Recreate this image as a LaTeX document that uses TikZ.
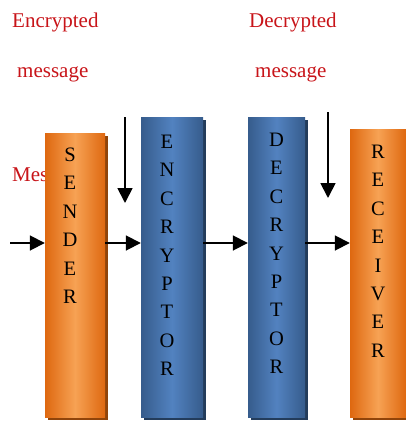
\documentclass[tikz,border=0pt]{standalone}
\usepackage{fontspec}
\setmainfont{Liberation Serif}
\usetikzlibrary{positioning,arrows.meta,shadows}

\definecolor{msgred}{RGB}{200,20,25}
\definecolor{orangedark}{RGB}{222,104,16}
\definecolor{orangelight}{RGB}{247,162,84}
\definecolor{bluedark}{RGB}{54,92,140}
\definecolor{bluelight}{RGB}{82,130,192}

\begin{document}
\begin{tikzpicture}[x=1pt, y=-1pt,
    msg/.style={anchor=base west, inner sep=0pt, text=msgred, font=\fontsize{21}{25}\selectfont},
    orangeblock/.style={left color=orangedark, right color=orangedark, middle color=orangelight,
      general shadow={fill=orangedark!65!black, shadow xshift=3pt, shadow yshift=-3pt}},
    blueblock/.style={left color=bluedark, right color=bluedark, middle color=bluelight,
      general shadow={fill=bluedark!65!black, shadow xshift=3pt, shadow yshift=-3pt}},
    letters/.style={align=center, inner sep=0pt, font=\fontsize{20.5}{28.4}\selectfont},
    flow/.style={line width=1.8pt, -{Triangle[length=15pt, width=15pt]}}]
    \useasboundingbox (0,0) rectangle (406,421);

    \node[msg] (enctop) at (12,27) {Encrypted};
    \node[msg] (encbot) at (17,77) {message};
    \node[msg] (dectop) at (249,27) {Decrypted};
    \node[msg] (decbot) at (255,77) {message};
    \node[msg] (plain) at (12,181) {Mes};

    \node[orangeblock, minimum width=60pt, minimum height=284pt] (sender) at (75,275) {};
    \node[blueblock, minimum width=62pt, minimum height=300pt] (encryptor) at (172,267) {};
    \node[blueblock, minimum width=57pt, minimum height=300pt] (decryptor) at (276.5,267) {};
    \node[orangeblock, minimum width=56pt, minimum height=288pt] (receiver) at (378,273) {};

    \node[letters, below=15pt of sender.north, xshift=-5pt] (sendertxt) {S\\E\\N\\D\\E\\R};
    \node[letters, below=18pt of encryptor.north, xshift=-5pt] (encryptortxt) {E\\N\\C\\R\\Y\\P\\T\\O\\R};
    \node[letters, below=16pt of decryptor.north] (decryptortxt) {D\\E\\C\\R\\Y\\P\\T\\O\\R};
    \node[letters, below=16pt of receiver.north] (receivertxt) {R\\E\\C\\E\\I\\V\\E\\R};

    \coordinate (lane) at (0,243);
    \coordinate (msgin) at (10,243);
    \coordinate (enckey) at (125,117);
    \coordinate (enckeyend) at (125,203);
    \coordinate (deckey) at (328,112);
    \coordinate (deckeyend) at (328,198);

    \draw[flow] (msgin) -- (sender.west |- lane);
    \draw[flow] (sender.east |- lane) -- (encryptor.west |- lane);
    \draw[flow] (encryptor.east |- lane) -- (decryptor.west |- lane);
    \draw[flow] (decryptor.east |- lane) -- (receiver.west |- lane);
    \draw[flow] (enckey) -- (enckeyend);
    \draw[flow] (deckey) -- (deckeyend);
\end{tikzpicture}
\end{document}
